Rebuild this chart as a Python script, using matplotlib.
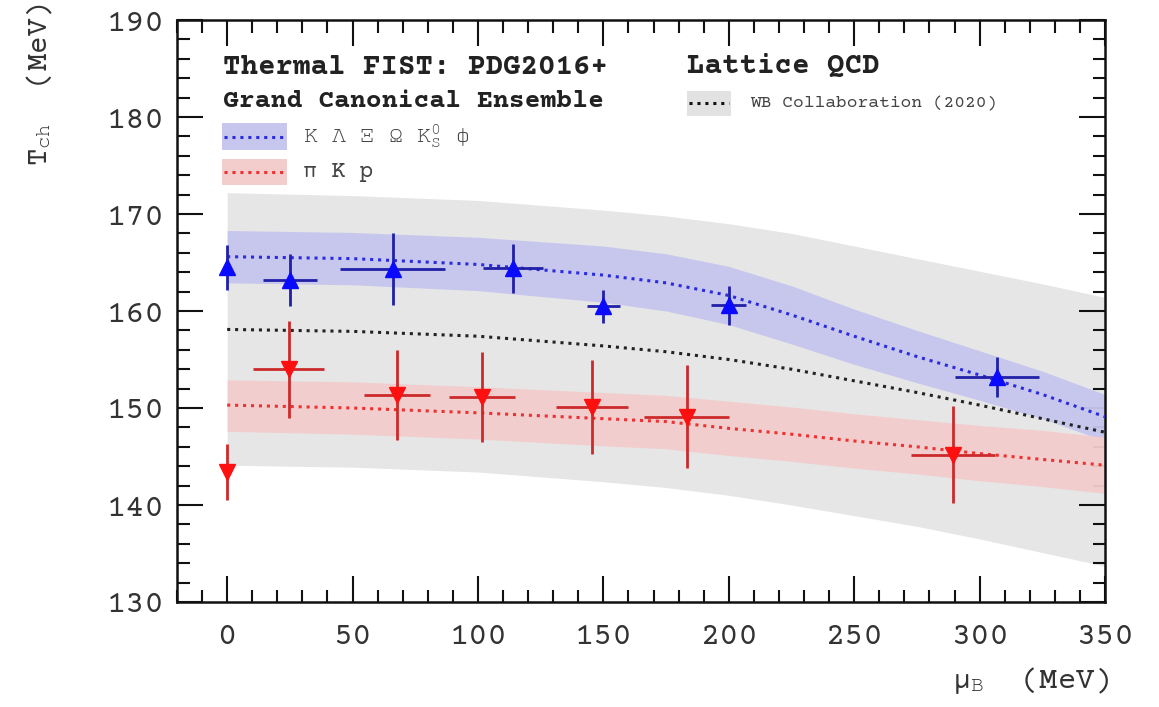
import matplotlib
matplotlib.use("Agg")
import matplotlib.pyplot as plt
from matplotlib.patches import Rectangle
from matplotlib.lines import Line2D
from matplotlib.ticker import MultipleLocator

plt.rcParams['font.family'] = ['Courier Prime', 'FreeMono', 'DejaVu Sans']
plt.rcParams['mathtext.fontset'] = 'custom'
plt.rcParams['mathtext.rm'] = 'FreeMono'
plt.rcParams['mathtext.it'] = 'FreeMono'
plt.rcParams['mathtext.bf'] = 'FreeMono:bold'

# ---- data ----
# strange-particle fit (blue, up triangles)
blue_mu = [0, 25, 66, 114, 150, 200, 307]
blue_mu_err = [0, 10.8, 21, 11.8, 6.5, 7, 16.8]
blue_T = [164.5, 163.2, 164.3, 164.4, 160.5, 160.6, 153.2]
blue_T_err = [2.3, 2.7, 3.7, 2.5, 1.7, 2.0, 2.1]

# pi K p fit (red, down triangles)
red_mu = [0, 24.5, 67.7, 101.6, 145.4, 183.2, 289.5]
red_mu_err = [0, 14, 13, 13, 14.3, 17, 16.7]
red_T = [143.4, 154.0, 151.3, 151.1, 150.1, 149.1, 145.2]
red_T_err = [2.9, 5.0, 4.65, 4.65, 4.8, 5.3, 5.0]

# curves
curve_mu = [0, 50, 100, 150, 175, 200, 225, 250, 275, 300, 325, 350]
blue_line = [165.6, 165.4, 164.8, 163.7, 162.9, 161.6, 159.6, 157.4, 155.3, 153.4, 151.4, 149.1]
blue_hi = [168.3, 168.1, 167.6, 166.7, 165.9, 164.6, 162.6, 160.2, 158.0, 155.9, 153.8, 151.4]
blue_lo = [162.9, 162.7, 162.1, 160.9, 160.0, 158.6, 156.6, 154.5, 152.6, 150.8, 148.9, 146.6]

red_line = [150.3, 150.0, 149.5, 148.9, 148.6, 147.9, 147.3, 146.6, 146.0, 145.3, 144.7, 144.1]
red_hi = [152.9, 152.7, 152.2, 151.6, 151.3, 150.7, 150.1, 149.4, 148.8, 148.2, 147.7, 147.0]
red_lo = [147.6, 147.3, 146.8, 146.1, 145.8, 145.1, 144.5, 143.8, 143.2, 142.5, 141.9, 141.2]

lqcd_line = [158.1, 157.9, 157.4, 156.4, 155.8, 155.0, 154.0, 152.8, 151.6, 150.3, 148.9, 147.5]
lqcd_hi = [172.2, 171.9, 171.4, 170.4, 169.8, 169.0, 168.0, 166.7, 165.4, 164.1, 162.8, 161.4]
lqcd_lo = [144.1, 143.9, 143.4, 142.4, 141.8, 141.0, 140.0, 138.9, 137.8, 136.5, 135.1, 133.7]

xticks = [0, 50, 100, 150, 200, 250, 300, 350]
yticks = [130, 140, 150, 160, 170, 180, 190]

# ---- figure ----
fig = plt.figure(figsize=(11.59, 7.07), dpi=100)
ax = fig.add_axes([177/1159, 1-602/707, (1105-177)/1159, (602-20)/707])

dot = (0, (1, 1.6))
ax.fill_between(curve_mu, lqcd_lo, lqcd_hi, color='#e6e6e6', lw=0, zorder=1)
ax.fill_between(curve_mu, blue_lo, blue_hi, color='#c6c6ee', lw=0, alpha=0.95, zorder=2)
ax.fill_between(curve_mu, red_lo, red_hi, color='#f3cccc', lw=0, alpha=0.95, zorder=2)
ax.plot(curve_mu, lqcd_line, color='#222222', lw=2.2, ls=dot, zorder=3)
ax.plot(curve_mu, blue_line, color='#2a2ae0', lw=2.2, ls=dot, zorder=3)
ax.plot(curve_mu, red_line, color='#ee3030', lw=2.2, ls=dot, zorder=3)

ax.errorbar(blue_mu, blue_T, xerr=blue_mu_err, yerr=blue_T_err, fmt='^',
            color='#0a0aff', ecolor='#2020a8', elinewidth=2, capsize=0,
            ms=12, mec='#0a0aff', zorder=5)
ax.errorbar(red_mu, red_T, xerr=red_mu_err, yerr=red_T_err, fmt='v',
            color='#ff1010', ecolor='#cc2a2a', elinewidth=2, capsize=0,
            ms=12, mec='#ff1010', zorder=5)

ax.set_xlim(-20, 350)
ax.set_ylim(130, 190)
ax.set_xticks(xticks)
ax.set_yticks(yticks)
ax.xaxis.set_minor_locator(MultipleLocator(10))
ax.yaxis.set_minor_locator(MultipleLocator(2))
ax.tick_params(which='both', direction='in', top=True, right=True, width=1.5, colors='#111111')
ax.tick_params(which='major', length=19)
ax.tick_params(which='minor', length=9)
ax.tick_params(axis='y', which='major', labelsize=23, pad=9, labelcolor='#333333')
ax.tick_params(axis='x', which='major', labelsize=23, pad=15, labelcolor='#333333')
for s in ax.spines.values():
    s.set_linewidth(1.8)
    s.set_color('#111111')

fig.text(40/1159, 1-85/707, r'T$_{\rm ch}$  (MeV)', rotation=90, fontsize=21,
         color='#333333', ha='center', va='center')
fig.text(1110/1159, 1-680/707, r'μ$_{\rm B}$  (MeV)', fontsize=22,
         color='#333333', ha='right', va='center')

# ---- legend (manual) ----
T = ax.transAxes
def frac(px, py):
    return (px-177)/928, (602-py)/582

x0, y0 = frac(223, 68)
ax.text(x0, y0, 'Thermal FIST: PDG2016+', transform=T, fontsize=21, fontweight='bold',
        color='#222222', va='center', ha='left', zorder=10)
x0, y0 = frac(223, 101)
ax.text(x0, y0, 'Grand Canonical Ensemble', transform=T, fontsize=19, fontweight='bold',
        color='#222222', va='center', ha='left', zorder=10)

def entry(py_top, py_bot, pcol, lcol, label, px0=222, px1=287, tx=303, fs=17, family=None):
    xa, ya = frac(px0, py_bot)
    xb, yb = frac(px1, py_top)
    ax.add_patch(Rectangle((xa, ya), xb-xa, yb-ya, transform=T, color=pcol, lw=0, zorder=9))
    ym = (ya+yb)/2
    ax.add_line(Line2D([xa+0.002, xb-0.002], [ym, ym], transform=T, color=lcol, lw=2.2,
                       ls=dot, zorder=10))
    xt, _ = frac(tx, 0)
    kw = {} if family is None else {'family': family}
    ax.text(xt, ym, label, transform=T, fontsize=fs, color='#444444', va='center',
            ha='left', zorder=10, **kw)

entry(123, 150, '#c6c6ee', '#2a2ae0', r'K Λ Ξ Ω K$^{0}_{\rm S}$ ϕ',
      family=['FreeMono', 'DejaVu Sans Mono'])
entry(159, 185, '#f3cccc', '#ee3030', 'π K p')

x0, y0 = frac(687, 66)
ax.text(x0, y0, 'Lattice QCD', transform=T, fontsize=21, fontweight='bold',
        color='#222222', va='center', ha='left', zorder=10)
entry(91, 116, '#e2e2e2', '#111111', 'WB Collaboration (2020)', px0=687, px1=731, tx=750, fs=13)

fig.savefig('out.png', dpi=100, facecolor='white')
